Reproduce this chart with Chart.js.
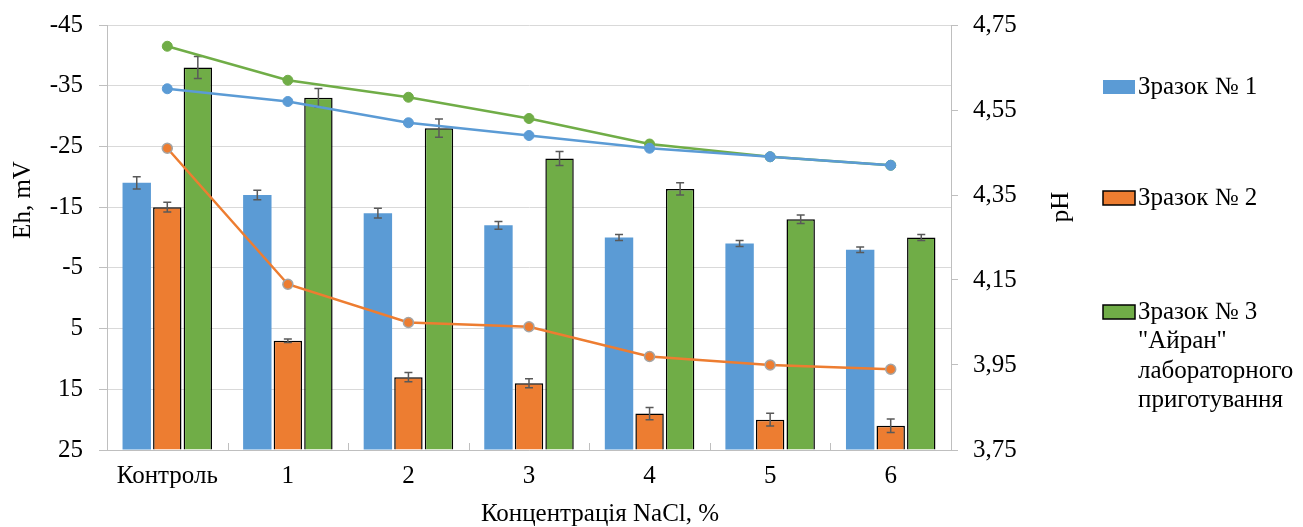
<!DOCTYPE html>
<html>
<head>
<meta charset="utf-8">
<script src="https://cdn.jsdelivr.net/npm/chart.js@4.4.0/dist/chart.umd.min.js"></script>
<style>
    body { margin: 0; background: #fff; }
    #wrap { position: relative; width: 1303px; height: 527px; }
</style>
</head>
<body>
<div id="wrap"><canvas id="myChart" width="1303" height="527"></canvas></div>
<script>
// categories and values (Eh bars on the left axis, pH lines on the right one)
const categories = ['Контроль', '1', '2', '3', '4', '5', '6'];
const ehSample1 = [-19, -17, -14, -12, -10, -9, -8];
const ehSample2 = [-15, 7, 13, 14, 19, 20, 21];
const ehSample3 = [-38, -33, -28, -23, -18, -13, -10];
const ehErr1 = [1.0, 0.8, 0.8, 0.65, 0.5, 0.5, 0.45];
const ehErr2 = [0.8, 0.3, 0.75, 0.75, 1.0, 1.05, 1.1];
const ehErr3 = [1.8, 1.55, 1.5, 1.15, 1.0, 0.7, 0.5];
const phSample1 = [4.60, 4.57, 4.52, 4.49, 4.46, 4.44, 4.42];
const phSample2 = [4.46, 4.14, 4.05, 4.04, 3.97, 3.95, 3.94];
const phSample3 = [4.70, 4.62, 4.58, 4.53, 4.47, 4.44, 4.42];
const ehTicks = [-45, -35, -25, -15, -5, 5, 15, 25];
const phTicks = [3.75, 3.95, 4.15, 4.35, 4.55, 4.75];
const seriesNames = ['Зразок № 1', 'Зразок № 2', 'Зразок № 3 "Айран" лабораторного приготування'];
const legendLines = [['Зразок № 1'], ['Зразок № 2'], ['Зразок № 3', '"Айран"', 'лабораторного', 'приготування']];
const xTitle = 'Концентрація NaCl, %';
const yTitle = 'Eh, mV';
const y2Title = 'pH';

const FONT = "'Liberation Serif', 'Times New Roman', serif";
const FSIZE = 25;
const BLUE = '#5b9bd5', ORANGE = '#ed7d31', GREEN = '#70ad47';

// error bars, titles, legend and small inner ticks
const extras = {
    id: 'extras',
    afterDatasetDraw(chart, args) {
        const ds = chart.data.datasets[args.index];
        if (!ds.errors) return;
        const ctx = chart.ctx;
        const y = chart.scales.y;
        ctx.save();
        ctx.strokeStyle = '#595959';
        ctx.lineWidth = 1.5;
        args.meta.data.forEach((bar, j) => {
            const t = y.getPixelForValue(ds.data[j] - ds.errors[j]);
            const b = y.getPixelForValue(ds.data[j] + ds.errors[j]);
            ctx.beginPath();
            ctx.moveTo(bar.x, t); ctx.lineTo(bar.x, b);
            ctx.moveTo(bar.x - 4, t); ctx.lineTo(bar.x + 4, t);
            ctx.moveTo(bar.x - 4, b); ctx.lineTo(bar.x + 4, b);
            ctx.stroke();
        });
        ctx.restore();
    },
    afterDraw(chart) {
        const ctx = chart.ctx;
        const x = chart.scales.x;
        const area = chart.chartArea;
        ctx.save();

        // inner ticks between categories
        const half = (x.getPixelForValue(1) - x.getPixelForValue(0)) / 2;
        ctx.strokeStyle = '#bfbfbf';
        ctx.lineWidth = 1;
        for (let i = 0; i <= categories.length; i++) {
            const px = Math.round(x.getPixelForValue(i) - half) + 0.5;
            ctx.beginPath();
            ctx.moveTo(px, area.bottom);
            ctx.lineTo(px, area.bottom - 7);
            ctx.stroke();
        }

        ctx.fillStyle = '#000';
        ctx.font = FSIZE + 'px ' + FONT;
        ctx.textAlign = 'center';
        ctx.textBaseline = 'middle';

        // axis titles
        ctx.fillText(xTitle, 600, 514);
        ctx.save();
        ctx.translate(23, 200);
        ctx.rotate(-Math.PI / 2);
        ctx.fillText(yTitle, 0, 0);
        ctx.restore();
        ctx.save();
        ctx.translate(1061, 207);
        ctx.rotate(-Math.PI / 2);
        ctx.fillText(y2Title, 0, 0);
        ctx.restore();

        // legend
        const tops = [87, 198, 312];
        ctx.textAlign = 'left';
        [0, 1, 2].forEach(k => {
            const ds = chart.data.datasets[k];
            ctx.fillStyle = ds.backgroundColor;
            ctx.fillRect(1103, tops[k] - 7, 32, 14);
            if (ds.borderWidth) {
                ctx.strokeStyle = '#000';
                ctx.lineWidth = 1.5;
                ctx.strokeRect(1103, tops[k] - 7, 32, 14);
            }
            ctx.fillStyle = '#000';
            legendLines[k].forEach((line, n) => {
                ctx.fillText(line, 1138, tops[k] + n * 29.5);
            });
        });
        ctx.restore();
    }
};

// keep the plot area where the reference has it
function fixVertical(width) {
    return s => {
        s.width = width;
        s.paddingTop = 0;
        s.paddingBottom = 0;
    };
}

const ctx = document.getElementById('myChart').getContext('2d');
const myChart = new Chart(ctx, {
    data: {
        labels: categories,
        datasets: [
            {
                type: 'bar', label: seriesNames[0], data: ehSample1, errors: ehErr1,
                yAxisID: 'y', base: 25, order: 2,
                backgroundColor: BLUE, borderWidth: 0,
                categoryPercentage: 0.76, barPercentage: 0.93
            },
            {
                type: 'bar', label: seriesNames[1], data: ehSample2, errors: ehErr2,
                yAxisID: 'y', base: 25, order: 2,
                backgroundColor: ORANGE, borderColor: '#000', borderWidth: 1.5,
                categoryPercentage: 0.76, barPercentage: 0.93
            },
            {
                type: 'bar', label: seriesNames[2], data: ehSample3, errors: ehErr3,
                yAxisID: 'y', base: 25, order: 2,
                backgroundColor: GREEN, borderColor: '#000', borderWidth: 1.5,
                categoryPercentage: 0.76, barPercentage: 0.93
            },
            {
                type: 'line', label: seriesNames[0], data: phSample1, yAxisID: 'y2', order: 0,
                borderColor: BLUE, backgroundColor: BLUE, borderWidth: 2.5,
                pointRadius: 5, pointBackgroundColor: BLUE, pointBorderColor: BLUE, pointBorderWidth: 1
            },
            {
                type: 'line', label: seriesNames[1], data: phSample2, yAxisID: 'y2', order: 0,
                borderColor: ORANGE, backgroundColor: ORANGE, borderWidth: 2.5,
                pointRadius: 5, pointBackgroundColor: ORANGE, pointBorderColor: '#a5a5a5', pointBorderWidth: 1.5
            },
            {
                type: 'line', label: seriesNames[2], data: phSample3, yAxisID: 'y2', order: 0,
                borderColor: GREEN, backgroundColor: GREEN, borderWidth: 2.5,
                pointRadius: 5, pointBackgroundColor: GREEN, pointBorderColor: GREEN, pointBorderWidth: 1
            }
        ]
    },
    options: {
        responsive: false,
        animation: false,
        layout: { padding: { top: 25, left: 0, right: 0, bottom: 0 } },
        plugins: {
            legend: { display: false },
            tooltip: { enabled: false }
        },
        scales: {
            x: {
                offset: true,
                grid: { display: false, drawTicks: false },
                border: { color: '#bfbfbf', width: 1 },
                ticks: { font: { family: FONT, size: FSIZE }, color: '#000', padding: 11, maxRotation: 0 },
                afterFit: s => { s.height = 77; s.paddingLeft = 0; s.paddingRight = 0; }
            },
            y: {
                position: 'left',
                reverse: true,
                min: -45,
                max: 25,
                afterBuildTicks: s => { s.ticks = ehTicks.map(v => ({ value: v })); },
                afterFit: fixVertical(107),
                grid: { color: '#d9d9d9', tickColor: '#bfbfbf', tickLength: 8 },
                border: { color: '#bfbfbf', width: 1 },
                ticks: { font: { family: FONT, size: FSIZE }, color: '#000', padding: 16, callback: v => String(v) }
            },
            y2: {
                position: 'right',
                min: 3.75,
                max: 4.75,
                afterBuildTicks: s => { s.ticks = phTicks.map(v => ({ value: v })); },
                afterFit: fixVertical(352),
                grid: { drawOnChartArea: false, tickColor: '#bfbfbf', tickLength: 7 },
                border: { color: '#bfbfbf', width: 1 },
                ticks: { font: { family: FONT, size: FSIZE }, color: '#000', padding: 15, callback: v => v.toFixed(2).replace('.', ',') }
            }
        }
    },
    plugins: [extras]
});
</script>
</body>
</html>
